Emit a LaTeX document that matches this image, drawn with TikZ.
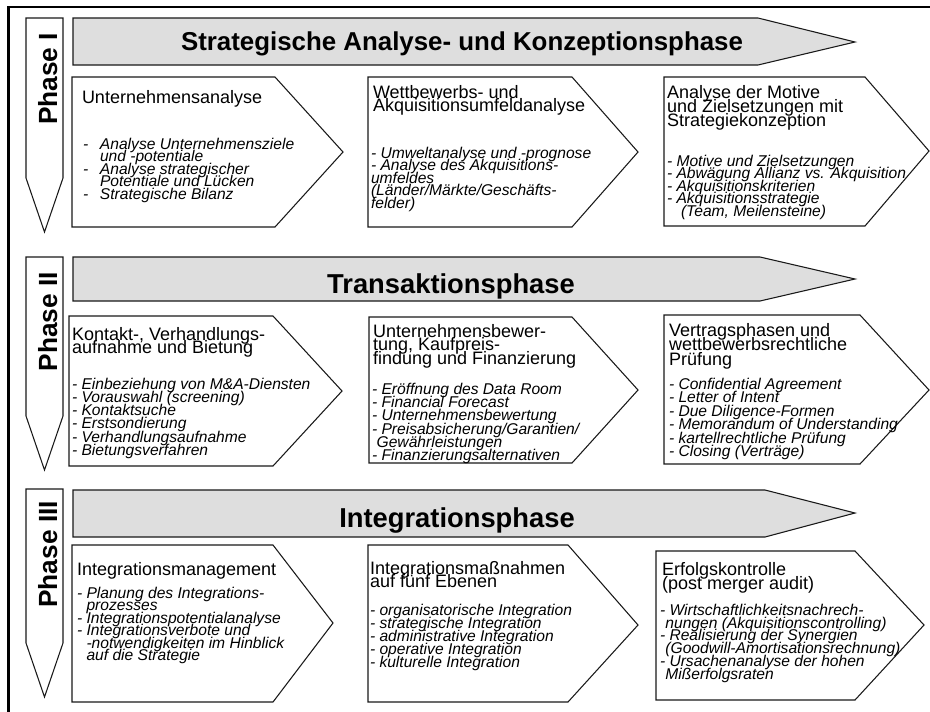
\documentclass[tikz,border=0pt]{standalone}
\usepackage{fontspec}
\setmainfont{Liberation Sans}
\newcommand{\itemdash}[1]{\makebox[#1][l]{-}}
\newcommand{\tightlines}{\lineskiplimit=-100pt\relax\lineskip=0pt\relax}
\begin{document}
\begin{tikzpicture}[x=0.75pt,y=-0.75pt,
  every node/.style={inner sep=0pt, outer sep=0pt, text=black},
  outline/.style={draw=black!90, line width=0.8pt, line join=miter},
  phasearrow/.style={outline, fill=white},
  banner/.style={outline, fill=black!13},
  stagebox/.style={outline, fill=white},
  phaselabel/.style={rotate=90, anchor=base east, font=\fontsize{19.7}{22}\selectfont\bfseries},
  bannertitle/.style={anchor=base, font=\fontsize{#1}{24}\selectfont\bfseries},
  boxhead/.style={anchor=north west, align=left, font=\fontsize{13.5}{#1}\selectfont\tightlines},
  boxitems/.style={anchor=north west, align=left, font=\fontsize{11.7}{#1}\selectfont\itshape\tightlines},
]
\useasboundingbox (0,0) rectangle (930,711);
\clip (0,0) rectangle (930,711);
\fill[white] (0,0) rectangle (930,711);

% outer frame (only top and left edges lie inside the page)
\draw[line width=2.2pt] (8.5,760) -- (8.5,7) -- (960,7);

% ---------------- Phase I ----------------
\draw[phasearrow] (26,18) -- (63,18) -- (63,178) -- (44.5,232) -- (26,178) -- cycle;
\node[phaselabel] (p1) at (57,33) {Phase I};
\draw[banner] (73,18) -- (758,18) -- (855,42) -- (758,65) -- (73,65) -- cycle;
\node[bannertitle=19.4] (t1) at (462,50) {Strategische Analyse- und Konzeptionsphase};

\draw[stagebox] (72,77) -- (275,77) -- (343,152) -- (275,227) -- (72,227) -- cycle;
\node[boxhead=10] (h11) at (82,90) {Unternehmensanalyse};
\node[boxitems=9.4] (i11) at (83,138) {\itemdash{12.75pt}Analyse Unternehmensziele\\
  \hspace*{12.75pt}und -potentiale\\
  \itemdash{12.75pt}Analyse strategischer\\
  \hspace*{12.75pt}Potentiale und Lücken\\
  \itemdash{12.75pt}Strategische Bilanz};

\draw[stagebox] (368,77) -- (572,77) -- (638,152) -- (572,227) -- (368,227) -- cycle;
\node[boxhead=10.4] (h12) at (373,85) {Wettbewerbs- und\\Akquisitionsumfeldanalyse};
\node[boxitems=9.4] (i12) at (371,147) {- Umweltanalyse und -prognose\\
  - Analyse des Akquisitions-\\
  umfeldes\\
  (Länder/Märkte/Geschäfts-\\
  felder)};

\draw[stagebox] (664,77) -- (865,77) -- (929,151) -- (865,226) -- (664,226) -- cycle;
\node[boxhead=10.5] (h13) at (667,85) {Analyse der Motive\\und Zielsetzungen mit\\Strategiekonzeption};
\node[boxitems=9.4] (i13) at (667,155) {- Motive und Zielsetzungen\\
  - Abwägung Allianz vs. Akquisition\\
  - Akquisitionskriterien\\
  - Akquisitionsstrategie\\
  \hspace*{0.9em}(Team, Meilensteine)};

% ---------------- Phase II ----------------
\draw[phasearrow] (26,257) -- (63,257) -- (63,416) -- (44.5,470) -- (26,416) -- cycle;
\node[phaselabel] (p2) at (57,272) {Phase II};
\draw[banner] (73,257) -- (760,257) -- (855,279) -- (760,301) -- (73,301) -- cycle;
\node[bannertitle=20.5] (t2) at (451,293) {Transaktionsphase};

\draw[stagebox] (69,316) -- (273,316) -- (342,391) -- (273,466) -- (69,466) -- cycle;
\node[boxhead=10.4] (h21) at (72,327) {Kontakt-, Verhandlungs-\\aufnahme und Bietung};
\node[boxitems=9.9] (i21) at (72,378) {- Einbeziehung von M\&A-Diensten\\
  - Vorauswahl (screening)\\
  - Kontaktsuche\\
  - Erstsondierung\\
  - Verhandlungsaufnahme\\
  - Bietungsverfahren};

\draw[stagebox] (369,317) -- (572,317) -- (638,390) -- (572,463) -- (369,463) -- cycle;
\node[boxhead=10.4] (h22) at (373,324) {Unternehmensbewer-\\tung, Kaufpreis-\\findung und Finanzierung};
\node[boxitems=10] (i22) at (372,383) {- Eröffnung des Data Room\\
  - Financial Forecast\\
  - Unternehmensbewertung\\
  - Preisabsicherung/Garantien/\\
  \hspace*{0.3em}Gewährleistungen\\
  - Finanzierungsalternativen};

\draw[stagebox] (664,315) -- (860,315) -- (929,390) -- (860,464) -- (664,464) -- cycle;
\node[boxhead=11] (h23) at (669,323) {Vertragsphasen und\\wettbewerbsrechtliche\\Prüfung};
\node[boxitems=10.1] (i23) at (669,378) {- Confidential Agreement\\
  - Letter of Intent\\
  - Due Diligence-Formen\\
  - Memorandum of Understanding\\
  - kartellrechtliche Prüfung\\
  - Closing (Verträge)};

% ---------------- Phase III ----------------
\draw[phasearrow] (26,489) -- (63,489) -- (63,643) -- (44.5,697) -- (26,643) -- cycle;
\node[phaselabel] (p3) at (57,501) {Phase III};
\draw[banner] (73,490) -- (765,490) -- (855,513) -- (765,537) -- (73,537) -- cycle;
\node[bannertitle=20.5] (t3) at (457,527) {Integrationsphase};

\draw[stagebox] (72,545) -- (273,545) -- (333,623) -- (273,702) -- (72,702) -- cycle;
\node[boxhead=10] (h31) at (77,562) {Integrationsmanagement};
\node[boxitems=9.4] (i31) at (77,587) {- Planung des Integrations-\\
  \hspace*{0.61em}prozesses\\
  - Integrationspotentialanalyse\\
  - Integrationsverbote und\\
  \hspace*{0.61em}-notwendigkeiten im Hinblick\\
  \hspace*{0.61em}auf die Strategie};

\draw[stagebox] (368,545) -- (568,545) -- (638,625) -- (568,702) -- (368,702) -- cycle;
\node[boxhead=10.4] (h32) at (370,561) {Integrationsmaßnahmen\\auf fünf Ebenen};
\node[boxitems=9.75] (i32) at (370,604) {- organisatorische Integration\\
  - strategische Integration\\
  - administrative Integration\\
  - operative Integration\\
  - kulturelle Integration};

\draw[stagebox] (656,551) -- (855,551) -- (924,625) -- (855,700) -- (656,700) -- cycle;
\node[boxhead=10.9] (h33) at (662,562) {Erfolgskontrolle\\(post merger audit)};
\node[boxitems=9.6] (i33) at (660,604) {- Wirtschaftlichkeitsnachrech-\\
  \hspace*{0.35em}nungen (Akquisitionscontrolling)\\
  - Realisierung der Synergien\\
  \hspace*{0.35em}(Goodwill-Amortisationsrechnung)\\
  - Ursachenanalyse der hohen\\
  \hspace*{0.35em}Mißerfolgsraten};
\end{tikzpicture}
\end{document}
